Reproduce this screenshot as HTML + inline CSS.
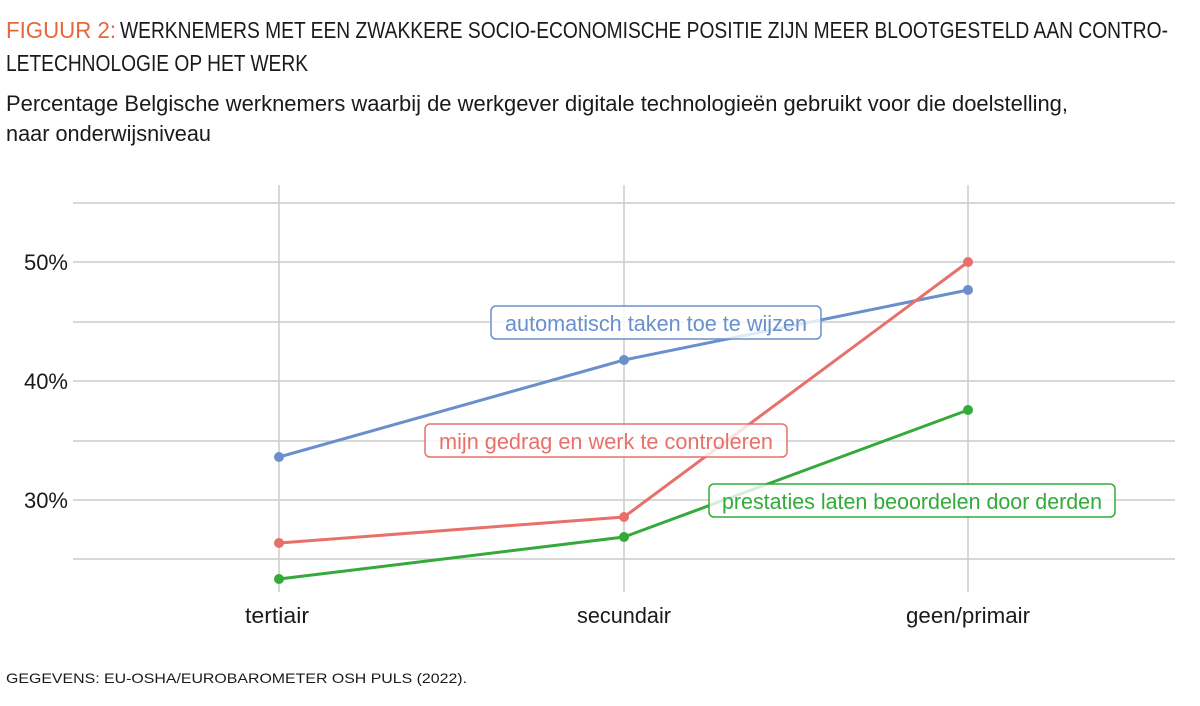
<!DOCTYPE html>
<html><head><meta charset="utf-8"><style>
html,body{margin:0;padding:0;background:#fff;}
svg{display:block;font-family:"Liberation Sans Narrow","Liberation Sans",sans-serif;}
</style></head><body>
<svg width="1200" height="706" viewBox="0 0 1200 706">
<rect width="1200" height="706" fill="#fff"/>
<text x="6" y="38" font-size="23" fill="#e8663c" textLength="110" lengthAdjust="spacingAndGlyphs">FIGUUR 2:</text>
<text x="120" y="38" font-size="23" fill="#1a1a1a" textLength="1048" lengthAdjust="spacingAndGlyphs">WERKNEMERS MET EEN ZWAKKERE SOCIO-ECONOMISCHE POSITIE ZIJN MEER BLOOTGESTELD AAN CONTRO-</text>
<text x="6" y="71" font-size="23" fill="#1a1a1a" textLength="302" lengthAdjust="spacingAndGlyphs">LETECHNOLOGIE OP HET WERK</text>
<text x="6" y="111" font-size="22" fill="#1a1a1a" textLength="1062" lengthAdjust="spacingAndGlyphs">Percentage Belgische werknemers waarbij de werkgever digitale technologieën gebruikt voor die doelstelling,</text>
<text x="6" y="141" font-size="22" fill="#1a1a1a" textLength="205" lengthAdjust="spacingAndGlyphs">naar onderwijsniveau</text>
<g stroke="#cccccc" stroke-width="1.5">
<line x1="73" x2="1175" y1="203" y2="203"/><line x1="73" x2="1175" y1="262" y2="262"/>
<line x1="73" x2="1175" y1="322" y2="322"/><line x1="73" x2="1175" y1="381" y2="381"/>
<line x1="73" x2="1175" y1="441" y2="441"/><line x1="73" x2="1175" y1="500" y2="500"/>
<line x1="73" x2="1175" y1="559" y2="559"/>
<line x1="279" x2="279" y1="185" y2="592"/><line x1="624" x2="624" y1="185" y2="592"/><line x1="968" x2="968" y1="185" y2="592"/>
</g>
<g font-size="22" fill="#1a1a1a" text-anchor="end">
<text x="68" y="270">50%</text><text x="68" y="389">40%</text><text x="68" y="508">30%</text>
</g>
<g font-size="22" fill="#1a1a1a" text-anchor="middle">
<text x="277" y="623" textLength="64" lengthAdjust="spacingAndGlyphs">tertiair</text>
<text x="624" y="623" textLength="94" lengthAdjust="spacingAndGlyphs">secundair</text>
<text x="968" y="623" textLength="124" lengthAdjust="spacingAndGlyphs">geen/primair</text>
</g>
<g stroke-width="3" fill="none">
<polyline points="279,457 624,360 968,290" stroke="#6a8fcc"/>
<polyline points="279,543 624,517 968,262" stroke="#e8706a"/>
<polyline points="279,579 624,537 968,410" stroke="#33aa3a"/>
</g>
<g fill="#6a8fcc"><circle cx="279" cy="457" r="5"/><circle cx="624" cy="360" r="5"/><circle cx="968" cy="290" r="5"/></g>
<g fill="#e8706a"><circle cx="279" cy="543" r="5"/><circle cx="624" cy="517" r="5"/><circle cx="968" cy="262" r="5"/></g>
<g fill="#33aa3a"><circle cx="279" cy="579" r="5"/><circle cx="624" cy="537" r="5"/><circle cx="968" cy="410" r="5"/></g>
<rect x="491" y="306" width="330" height="33" rx="5" fill="#fff" fill-opacity="0.8" stroke="#6a8fcc" stroke-width="1.5"/>
<text x="505" y="331" font-size="22" fill="#6a8fcc" textLength="302" lengthAdjust="spacingAndGlyphs">automatisch taken toe te wijzen</text>
<rect x="425" y="424" width="362" height="33" rx="5" fill="#fff" fill-opacity="0.8" stroke="#e8706a" stroke-width="1.5"/>
<text x="439" y="449" font-size="22" fill="#e8706a" textLength="334" lengthAdjust="spacingAndGlyphs">mijn gedrag en werk te controleren</text>
<rect x="709" y="484" width="406" height="33" rx="5" fill="#fff" fill-opacity="0.8" stroke="#33aa3a" stroke-width="1.5"/>
<text x="722" y="509" font-size="22" fill="#33aa3a" textLength="380" lengthAdjust="spacingAndGlyphs">prestaties laten beoordelen door derden</text>
<text x="6" y="683" font-size="14" fill="#1a1a1a" textLength="461" lengthAdjust="spacingAndGlyphs">GEGEVENS: EU-OSHA/EUROBAROMETER OSH PULS (2022).</text>
</svg>
</body></html>
